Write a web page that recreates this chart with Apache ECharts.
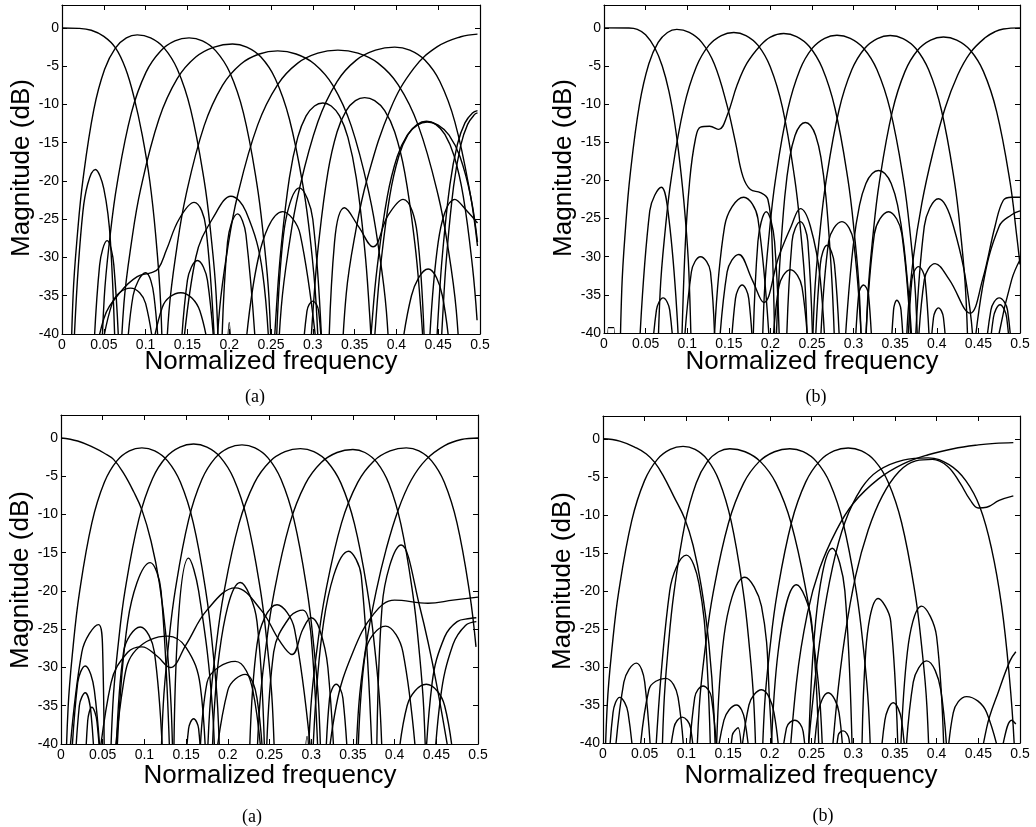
<!DOCTYPE html>
<html><head><meta charset="utf-8">
<script src="https://cdn.jsdelivr.net/npm/echarts@6/dist/echarts.min.js"></script>
<style>html,body{margin:0;padding:0;background:#fff}#c{width:1036px;height:827px}</style>
</head><body><div id="c"></div>
<script>
// ---------- data: each curve is a list of [normalized frequency, dB] ----------
const xTicks = [0,0.05,0.1,0.15,0.2,0.25,0.3,0.35,0.4,0.45,0.5];
const yTicks = [-40,-35,-30,-25,-20,-15,-10,-5,0];

const curvesTopLeft = [
 [[0,0],[0.02,-0.05],[0.035,-0.3],[0.05,-1.1],[0.064,-2.6],[0.076,-5.3],[0.086,-9],[0.096,-14],[0.105,-20],[0.112,-27],[0.118,-36],[0.121,-48]],
 [[0.01,-48],[0.0133,-34.9],[0.0185,-26.9],[0.025,-19.9],[0.038,-10.7],[0.051,-5.4],[0.064,-2.6],[0.077,-1.3],[0.09,-0.9],[0.106,-1.3],[0.122,-2.6],[0.138,-5.4],[0.154,-10.7],[0.17,-19.9],[0.178,-26.9],[0.1844,-34.9],[0.1884,-48]],
 [[0.0462,-48],[0.0505,-35.3],[0.0574,-27.3],[0.066,-20.3],[0.083,-11.1],[0.1004,-5.8],[0.118,-3.0],[0.135,-1.7],[0.152,-1.3],[0.168,-1.7],[0.184,-3.0],[0.2006,-5.8],[0.217,-11.1],[0.233,-20.3],[0.241,-27.3],[0.2476,-35.3],[0.2516,-48]],
 [[0.0687,-48],[0.074,-36.1],[0.083,-28.1],[0.094,-21.1],[0.116,-11.9],[0.138,-6.6],[0.16,-3.8],[0.182,-2.5],[0.204,-2.1],[0.221,-2.5],[0.238,-3.8],[0.255,-6.6],[0.272,-11.9],[0.289,-21.1],[0.2975,-28.1],[0.304,-36.1],[0.3086,-48]],
 [[0.1227,-48],[0.128,-37],[0.137,-29],[0.148,-22],[0.17,-12.8],[0.192,-7.5],[0.214,-4.7],[0.236,-3.4],[0.258,-3.0],[0.28,-3.4],[0.302,-4.7],[0.324,-7.5],[0.346,-12.8],[0.368,-22],[0.379,-29],[0.388,-37],[0.3933,-48]],
 [[0.1824,-48],[0.1884,-36.9],[0.198,-28.9],[0.21,-21.9],[0.234,-12.7],[0.258,-7.4],[0.282,-4.6],[0.306,-3.3],[0.33,-2.9],[0.354,-3.3],[0.378,-4.6],[0.402,-7.4],[0.426,-12.7],[0.45,-21.9],[0.462,-28.9],[0.4716,-36.9],[0.4776,-48]],
 [[0.2566,-48],[0.2623,-36.5],[0.2715,-28.5],[0.283,-21.5],[0.306,-12.3],[0.329,-7.0],[0.352,-4.2],[0.375,-2.9],[0.398,-2.5],[0.416,-2.9],[0.434,-4.2],[0.452,-7.0],[0.47,-12.3],[0.488,-21.5],[0.497,-28.5]],
 [[0.333,-48],[0.34,-34.75],[0.351,-26.75],[0.365,-19.75],[0.393,-10.55],[0.421,-5.25],[0.449,-2.45],[0.477,-1.15],[0.497,-0.8]],
 [[0.2505,-57.8],[0.253,-43.8],[0.257,-35.8],[0.262,-28.8],[0.272,-19.6],[0.282,-14.3],[0.292,-11.5],[0.302,-10.2],[0.312,-9.8],[0.322,-10.2],[0.332,-11.5],[0.342,-14.3],[0.352,-19.6],[0.362,-28.8],[0.367,-35.8],[0.371,-43.8],[0.3735,-57.8]],
 [[0.2944,-57.1],[0.297,-43.1],[0.3015,-35.1],[0.307,-28.1],[0.318,-18.9],[0.329,-13.6],[0.34,-10.8],[0.351,-9.5],[0.362,-9.1],[0.374,-9.5],[0.386,-10.8],[0.398,-13.6],[0.41,-18.9],[0.422,-28.1],[0.428,-35.1],[0.4328,-43.1],[0.4358,-57.1]],
 [[0.3684,-60],[0.371,-46.2],[0.3755,-38.2],[0.381,-31.2],[0.392,-22],[0.403,-16.7],[0.414,-13.9],[0.425,-12.6],[0.436,-12.2],[0.447,-12.6],[0.458,-13.9],[0.469,-16.7],[0.48,-22],[0.491,-31.2],[0.4965,-38.2]],
 [[0.3632,-60],[0.3662,-46.3],[0.371,-38.3],[0.377,-31.3],[0.389,-22.1],[0.401,-16.8],[0.413,-14],[0.425,-12.7],[0.437,-12.3],[0.45,-12.7],[0.463,-14],[0.476,-16.8],[0.489,-22.1],[0.497,-28]],
 [[0.4446,-58.7],[0.4469,-44.7],[0.4505,-36.7],[0.455,-29.7],[0.464,-20.5],[0.473,-15.2],[0.482,-12.4],[0.491,-11.1],[0.497,-10.8]],
 [[0.4503,-58.9],[0.4524,-44.9],[0.4558,-36.9],[0.46,-29.9],[0.4684,-20.7],[0.4768,-15.4],[0.4852,-12.6],[0.4936,-11.3],[0.497,-11.1]],
 [[0.012,-48],[0.025,-24],[0.04,-18.5],[0.05,-21],[0.058,-28],[0.065,-48]],
 [[0.036,-48],[0.045,-31],[0.054,-27.8],[0.062,-31],[0.07,-48]],
 [[0.032,-48],[0.05,-38],[0.07,-34.5],[0.09,-32.5],[0.106,-32],[0.115,-31.5],[0.125,-29],[0.14,-25],[0.158,-22.8],[0.172,-26],[0.185,-48]],
 [[0.04,-48],[0.06,-36],[0.082,-34],[0.1,-36],[0.115,-48]],
 [[0.075,-48],[0.085,-35],[0.1,-32],[0.11,-35],[0.118,-48]],
 [[0.1,-48],[0.12,-36.5],[0.142,-34.6],[0.165,-37],[0.182,-48]],
 [[0.14,-48],[0.15,-33],[0.162,-30.4],[0.174,-33],[0.185,-48]],
 [[0.14,-48],[0.16,-30],[0.185,-24],[0.202,-22],[0.22,-24],[0.24,-32],[0.25,-48]],
 [[0.19,-48],[0.198,-28],[0.21,-24.3],[0.22,-27],[0.235,-48]],
 [[0.196,-48],[0.2,-38.5],[0.204,-48]],
 [[0.215,-48],[0.235,-30],[0.264,-24],[0.285,-27],[0.31,-48]],
 [[0.255,-48],[0.265,-27],[0.284,-20.9],[0.3,-25],[0.313,-48]],
 [[0.285,-48],[0.293,-37],[0.3,-35.7],[0.307,-37],[0.313,-48]],
 [[0.318,-48],[0.326,-28],[0.338,-23.5],[0.355,-26],[0.372,-28.6],[0.39,-24.5],[0.408,-22.4],[0.425,-27],[0.435,-48]],
 [[0.437,-48],[0.45,-28],[0.47,-22.4],[0.485,-24],[0.497,-25.5]],
 [[0.4,-48],[0.418,-35],[0.438,-31.5],[0.455,-35],[0.468,-48]]
];

const curvesTopRight = [
 [[0,0],[0.03,-0.02],[0.04,-0.2],[0.05,-0.9],[0.061,-2.6],[0.07,-5],[0.078,-8.3],[0.085,-12.5],[0.091,-17.5],[0.097,-24],[0.102,-32],[0.106,-48]],
 [[0.0186,-48],[0.0214,-34.2],[0.0259,-26.2],[0.0315,-19.2],[0.0427,-10],[0.0539,-4.7],[0.0651,-1.9],[0.0763,-0.6],[0.0875,-0.2],[0.1025,-0.6],[0.1175,-1.9],[0.1325,-4.7],[0.1475,-10],[0.158,-15],[0.167,-19.5],[0.176,-21.2],[0.188,-21.6],[0.197,-22.5],[0.202,-28],[0.206,-48]],
 [[0.0638,-48],[0.0675,-34.6],[0.0735,-26.6],[0.081,-19.6],[0.096,-10.4],[0.111,-5.1],[0.126,-2.3],[0.141,-1.0],[0.156,-0.6],[0.1706,-1.0],[0.1852,-2.3],[0.1998,-5.1],[0.2144,-10.4],[0.229,-19.6],[0.2363,-26.6],[0.2421,-34.6],[0.2458,-48]],
 [[0.092,-48],[0.097,-30],[0.103,-20],[0.11,-14.5],[0.116,-13],[0.127,-12.9],[0.138,-13.3],[0.148,-11.5],[0.16,-7.5],[0.172,-4.6],[0.188,-2.3],[0.2,-1.2],[0.216,-0.74],[0.2314,-1.14],[0.2468,-2.44],[0.2622,-5.24],[0.2776,-10.54],[0.293,-19.74],[0.3007,-26.74],[0.3069,-34.74],[0.3107,-48]],
 [[0.189,-48],[0.1927,-34.96],[0.1986,-26.96],[0.206,-19.96],[0.2208,-10.76],[0.2356,-5.46],[0.2504,-2.66],[0.2652,-1.36],[0.28,-0.96],[0.296,-1.36],[0.312,-2.66],[0.328,-5.46],[0.344,-10.76],[0.36,-19.96],[0.368,-26.96],[0.3744,-34.96],[0.3784,-48]],
 [[0.2493,-48],[0.2531,-35],[0.2593,-27],[0.267,-20],[0.2824,-10.8],[0.2978,-5.5],[0.3132,-2.7],[0.3286,-1.4],[0.344,-1.0],[0.3594,-1.4],[0.3748,-2.7],[0.3902,-5.5],[0.4056,-10.8],[0.421,-20],[0.4287,-27],[0.4349,-35],[0.4387,-48]],
 [[0.3133,-48],[0.3171,-35.2],[0.3233,-27.2],[0.331,-20.2],[0.3464,-11],[0.3618,-5.7],[0.3772,-2.9],[0.3926,-1.6],[0.408,-1.2],[0.424,-1.6],[0.44,-2.9],[0.456,-5.7],[0.472,-11],[0.488,-20.2],[0.496,-27.2],[0.5,-31]],
 [[0.362,-48],[0.365,-38],[0.372,-30],[0.382,-23],[0.395,-16.5],[0.41,-10.5],[0.425,-6.2],[0.44,-3.3],[0.458,-1.3],[0.47,-0.5],[0.48,-0.15],[0.5,0]],
 [[0.2054,-46.4],[0.2079,-38.4],[0.211,-31.4],[0.2172,-22.2],[0.2234,-16.9],[0.2296,-14.1],[0.2358,-12.8],[0.242,-12.4],[0.2482,-12.8],[0.2544,-14.1],[0.2606,-16.9],[0.2668,-22.2],[0.273,-31.4],[0.2761,-38.4],[0.2786,-46.4]],
 [[0.2882,-44.7],[0.292,-37.7],[0.2996,-28.5],[0.3072,-23.2],[0.3148,-20.4],[0.3224,-19.1],[0.33,-18.7],[0.3376,-19.1],[0.3452,-20.4],[0.3528,-23.2],[0.3604,-28.5],[0.368,-37.7],[0.3718,-44.7]],
 [[0.04,-48],[0.055,-24],[0.069,-20.9],[0.078,-25],[0.088,-38],[0.091,-48]],
 [[0.055,-48],[0.063,-37],[0.071,-35.4],[0.079,-37],[0.086,-48]],
 [[0.004,-48],[0.005,-39.3],[0.012,-39.3],[0.013,-48]],
 [[0.093,-48],[0.105,-32],[0.116,-30],[0.128,-32],[0.134,-48]],
 [[0.13,-48],[0.145,-26],[0.168,-22.2],[0.185,-25],[0.202,-48]],
 [[0.135,-48],[0.148,-32],[0.162,-29.7],[0.178,-33],[0.192,-36],[0.21,-30],[0.225,-26],[0.236,-23.7],[0.248,-26],[0.26,-33],[0.268,-48]],
 [[0.15,-48],[0.158,-35.5],[0.166,-33.7],[0.174,-35.5],[0.181,-48]],
 [[0.178,-48],[0.185,-28],[0.195,-24.1],[0.205,-28],[0.212,-48]],
 [[0.2,-48],[0.21,-34],[0.224,-31.7],[0.238,-34],[0.248,-48]],
 [[0.218,-48],[0.226,-28],[0.236,-25.4],[0.245,-28],[0.252,-48]],
 [[0.252,-48],[0.26,-31],[0.268,-28.5],[0.277,-31],[0.285,-48]],
 [[0.258,-48],[0.27,-28],[0.286,-25.4],[0.3,-28],[0.312,-48]],
 [[0.3,-48],[0.306,-35],[0.312,-33.7],[0.318,-35],[0.324,-48]],
 [[0.312,-48],[0.325,-27],[0.342,-24.1],[0.358,-27],[0.372,-48]],
 [[0.343,-48],[0.348,-37],[0.352,-35.7],[0.357,-37],[0.362,-48]],
 [[0.364,-48],[0.37,-33],[0.378,-31.3],[0.386,-33],[0.393,-48]],
 [[0.372,-48],[0.385,-26],[0.402,-22.4],[0.42,-26],[0.44,-37],[0.446,-48]],
 [[0.375,-48],[0.385,-33],[0.398,-30.9],[0.415,-33],[0.44,-37.4],[0.455,-33],[0.47,-26],[0.48,-22.6],[0.49,-22.2],[0.5,-22.2]],
 [[0.39,-48],[0.396,-38],[0.402,-36.7],[0.408,-38],[0.414,-48]],
 [[0.44,-48],[0.455,-34],[0.475,-26],[0.49,-24.5],[0.5,-24]],
 [[0.455,-48],[0.465,-37],[0.475,-35.4],[0.485,-37],[0.492,-48]],
 [[0.46,-48],[0.468,-38],[0.476,-36.3],[0.484,-38],[0.49,-48]],
 [[0.465,-48],[0.475,-40],[0.49,-33],[0.5,-30.4]]
];

const curvesBottomLeft = [
 [[0,0],[0.02,-0.4],[0.04,-1.3],[0.052,-2],[0.063,-2.8],[0.075,-4.6],[0.087,-7],[0.097,-9.4],[0.108,-13.5],[0.118,-19],[0.126,-26],[0.132,-35],[0.135,-48]],
 [[0.0048,-48],[0.0085,-35.3],[0.0145,-27.3],[0.022,-20.3],[0.037,-11.1],[0.052,-5.8],[0.067,-3.0],[0.082,-1.7],[0.097,-1.3],[0.1124,-1.7],[0.1278,-3.0],[0.1432,-5.8],[0.1586,-11.1],[0.174,-20.3],[0.1817,-27.3],[0.1879,-35.3],[0.1917,-48]],
 [[0.0581,-48],[0.0622,-34.8],[0.0688,-26.8],[0.077,-19.8],[0.0934,-10.6],[0.1098,-5.3],[0.1262,-2.5],[0.1426,-1.2],[0.159,-0.8],[0.175,-1.2],[0.191,-2.5],[0.207,-5.3],[0.223,-10.6],[0.239,-19.8],[0.247,-26.8],[0.2534,-34.8],[0.2574,-48]],
 [[0.1186,-48],[0.1226,-34.9],[0.129,-26.9],[0.137,-19.9],[0.153,-10.7],[0.169,-5.4],[0.185,-2.6],[0.201,-1.3],[0.217,-0.9],[0.2326,-1.3],[0.2482,-2.6],[0.2638,-5.4],[0.2794,-10.7],[0.295,-19.9],[0.3028,-26.9],[0.309,-34.9],[0.3129,-48]],
 [[0.1738,-48],[0.1784,-35.4],[0.1858,-27.4],[0.195,-20.4],[0.2134,-11.2],[0.2318,-5.9],[0.2502,-3.1],[0.2686,-1.8],[0.287,-1.4],[0.3032,-1.8],[0.3194,-3.1],[0.3356,-5.9],[0.3518,-11.2],[0.368,-20.4],[0.3761,-27.4],[0.3826,-35.4],[0.3866,-48]],
 [[0.2332,-48],[0.2379,-35.5],[0.2455,-27.5],[0.255,-20.5],[0.274,-11.3],[0.293,-6.0],[0.312,-3.2],[0.331,-1.9],[0.35,-1.5],[0.3644,-1.9],[0.3788,-3.2],[0.3932,-6.0],[0.4076,-11.3],[0.422,-20.5],[0.4292,-27.5],[0.435,-35.5],[0.4386,-48]],
 [[0.2947,-48],[0.2995,-35.3],[0.3073,-27.3],[0.317,-20.3],[0.3364,-11.1],[0.3558,-5.8],[0.3752,-3.0],[0.3946,-1.7],[0.414,-1.3],[0.4292,-1.7],[0.4444,-3.0],[0.4596,-5.8],[0.4748,-11.1],[0.49,-20.3],[0.4976,-27.3]],
 [[0.352,-48],[0.357,-35],[0.366,-27],[0.378,-20],[0.39,-14.5],[0.404,-9.5],[0.42,-5.5],[0.438,-2.8],[0.46,-1],[0.48,-0.2],[0.5,0]],
 [[0.065,-48],[0.08,-24],[0.107,-16.3],[0.12,-20],[0.132,-48]],
 [[0.135,-48],[0.14,-25],[0.153,-15.7],[0.165,-20],[0.182,-36],[0.185,-48]],
 [[0.18,-48],[0.19,-28],[0.215,-18.9],[0.235,-24],[0.245,-48]],
 [[0.3,-48],[0.315,-24],[0.345,-14.8],[0.36,-18],[0.375,-48]],
 [[0.378,-48],[0.385,-22],[0.408,-14],[0.43,-22],[0.45,-32],[0.475,-48]],
 [[0.006,-48],[0.025,-28],[0.045,-24.4],[0.05,-28],[0.052,-48]],
 [[0.065,-48],[0.075,-28],[0.095,-24.7],[0.112,-28],[0.124,-48]],
 [[0.04,-48],[0.06,-32],[0.08,-28],[0.097,-27.3],[0.115,-28.5],[0.131,-30],[0.15,-27],[0.175,-22.5],[0.209,-19.6],[0.24,-22.5],[0.262,-26.5],[0.277,-28.3],[0.29,-25],[0.3,-23.5],[0.31,-25],[0.32,-30],[0.33,-48]],
 [[0.06,-48],[0.075,-32],[0.09,-27.7],[0.128,-25.9],[0.15,-27.4],[0.167,-32.4],[0.175,-48]],
 [[0.165,-48],[0.175,-32],[0.209,-29.2],[0.23,-33],[0.244,-48]],
 [[0.18,-48],[0.2,-33],[0.221,-30.9],[0.235,-34],[0.245,-48]],
 [[0.147,-48],[0.153,-38],[0.159,-36.7],[0.165,-38],[0.17,-48]],
 [[0.29,-48],[0.295,-39],[0.3,-48]],
 [[0.01,-48],[0.02,-32],[0.029,-29.8],[0.04,-33],[0.05,-48]],
 [[0.015,-48],[0.022,-35],[0.029,-33.3],[0.036,-36],[0.042,-48]],
 [[0.028,-48],[0.032,-37],[0.037,-35.2],[0.043,-37],[0.05,-48]],
 [[0.225,-48],[0.235,-27],[0.259,-21.8],[0.28,-25],[0.305,-48]],
 [[0.245,-48],[0.255,-28],[0.275,-23.3],[0.29,-22.5],[0.3,-26],[0.31,-48]],
 [[0.316,-48],[0.322,-34],[0.33,-32.2],[0.338,-34],[0.346,-48]],
 [[0.355,-48],[0.365,-28],[0.389,-24.6],[0.41,-28],[0.43,-48]],
 [[0.315,-48],[0.33,-35],[0.35,-28],[0.375,-23],[0.4,-21.2],[0.44,-21.6],[0.47,-21.2],[0.5,-20.8]],
 [[0.435,-48],[0.445,-32],[0.46,-26],[0.475,-24],[0.49,-23.6],[0.498,-23.5]],
 [[0.445,-48],[0.455,-34],[0.47,-27],[0.485,-24.5],[0.498,-24]],
 [[0.4,-48],[0.415,-35],[0.438,-32.2],[0.46,-35],[0.475,-48]]
];

const curvesBottomRight = [
 [[0,0],[0.02,-0.3],[0.04,-1.2],[0.052,-2],[0.062,-3.1],[0.072,-4.8],[0.085,-7.6],[0.098,-10.5],[0.108,-14],[0.118,-19.5],[0.127,-27],[0.133,-36],[0.136,-48]],
 [[0.0013,-48],[0.0051,-35],[0.0113,-27],[0.019,-20],[0.0344,-10.8],[0.0498,-5.5],[0.0652,-2.7],[0.0806,-1.4],[0.096,-1.0],[0.1104,-1.4],[0.1248,-2.7],[0.1392,-5.5],[0.1536,-10.8],[0.168,-20],[0.1752,-27],[0.181,-35],[0.1846,-48]],
 [[0.0696,-48],[0.0729,-35.3],[0.0783,-27.3],[0.085,-20.3],[0.0984,-11.1],[0.1118,-5.8],[0.1252,-3.0],[0.1386,-1.7],[0.152,-1.3],[0.1704,-1.7],[0.1888,-3.0],[0.2072,-5.8],[0.2256,-11.1],[0.244,-20.3],[0.2532,-27.3],[0.2606,-35.3],[0.2652,-48]],
 [[0.1108,-48],[0.1154,-35.3],[0.1228,-27.3],[0.132,-20.3],[0.1504,-11.1],[0.1688,-5.8],[0.1872,-3.0],[0.2056,-1.7],[0.224,-1.3],[0.24,-1.7],[0.256,-3.0],[0.272,-5.8],[0.288,-11.1],[0.304,-20.3],[0.312,-27.3],[0.3184,-35.3],[0.3224,-48]],
 [[0.1895,-48],[0.1937,-35.2],[0.2005,-27.2],[0.209,-20.2],[0.226,-11],[0.243,-5.7],[0.26,-2.9],[0.277,-1.6],[0.294,-1.2],[0.31,-1.6],[0.326,-2.9],[0.342,-5.7],[0.358,-11],[0.374,-20.2],[0.382,-27.2],[0.3884,-35.2],[0.3924,-48]],
 [[0.24,-48],[0.252,-34],[0.262,-25],[0.275,-17],[0.29,-11],[0.31,-6.5],[0.33,-4.2],[0.36,-2.8],[0.39,-2.5],[0.415,-3.4],[0.435,-5.5],[0.452,-9],[0.466,-14.5],[0.478,-22],[0.487,-31],[0.493,-40],[0.495,-48]],
 [[0.27,-48],[0.28,-35],[0.29,-26],[0.303,-18],[0.318,-12],[0.335,-7.5],[0.355,-4.3],[0.375,-2.9],[0.395,-2.7],[0.413,-3.6],[0.428,-5.8],[0.44,-8],[0.45,-9.1],[0.46,-9],[0.475,-8.1],[0.492,-7.5]],
 [[0.22,-48],[0.232,-32],[0.245,-23],[0.26,-17],[0.28,-12],[0.3,-8.5],[0.33,-5.3],[0.36,-3.3],[0.39,-2.1],[0.42,-1.3],[0.45,-0.8],[0.47,-0.6],[0.492,-0.5]],
 [[0.06,-48],[0.08,-20],[0.1,-15.3],[0.115,-19],[0.125,-30],[0.13,-48]],
 [[0.135,-48],[0.145,-26],[0.17,-18.2],[0.19,-22],[0.2,-35],[0.205,-48]],
 [[0.2,-48],[0.21,-28],[0.232,-19.2],[0.25,-24],[0.26,-48]],
 [[0.245,-48],[0.255,-24],[0.275,-14.4],[0.29,-20],[0.3,-48]],
 [[0.31,-48],[0.315,-28],[0.33,-21],[0.345,-24],[0.355,-48]],
 [[0.355,-48],[0.365,-28],[0.382,-22],[0.4,-26],[0.41,-48]],
 [[0.36,-48],[0.372,-32],[0.388,-29.2],[0.405,-33],[0.415,-48]],
 [[0.41,-48],[0.42,-36],[0.436,-33.9],[0.46,-36],[0.487,-48]],
 [[0.445,-48],[0.46,-38],[0.475,-33],[0.488,-29.2],[0.495,-28]],
 [[0.468,-48],[0.48,-40],[0.49,-37],[0.495,-37.5]],
 [[0.25,-48],[0.258,-36],[0.27,-33.4],[0.283,-36],[0.29,-48]],
 [[0.33,-48],[0.338,-37],[0.348,-34.7],[0.358,-37],[0.365,-48]],
 [[0.21,-48],[0.22,-38],[0.23,-37],[0.24,-38.5],[0.245,-48]],
 [[0.275,-48],[0.282,-39],[0.288,-38.4],[0.295,-39.5],[0.3,-48]],
 [[0.01,-48],[0.025,-32],[0.04,-29.5],[0.05,-32],[0.06,-48]],
 [[0.005,-48],[0.012,-36],[0.02,-34],[0.03,-36],[0.04,-48]],
 [[0.04,-48],[0.055,-33],[0.075,-31.5],[0.09,-34],[0.1,-48]],
 [[0.075,-48],[0.085,-38],[0.095,-36.6],[0.105,-38],[0.112,-48]],
 [[0.1,-48],[0.11,-34],[0.12,-32.5],[0.13,-34],[0.14,-48]],
 [[0.13,-48],[0.145,-37],[0.16,-35],[0.17,-37],[0.18,-48]],
 [[0.16,-48],[0.175,-35],[0.19,-33],[0.205,-36],[0.215,-48]],
 [[0.15,-48],[0.155,-39],[0.162,-38],[0.168,-48]]
];

// ---------- chart ----------
const panels = [
  {curves: curvesTopLeft,    grid: {left: 62,  top: 5,   width: 418, height: 329}},
  {curves: curvesTopRight,   grid: {left: 604, top: 5,   width: 416, height: 328}},
  {curves: curvesBottomLeft, grid: {left: 61,  top: 415, width: 417, height: 329}},
  {curves: curvesBottomRight,grid: {left: 603, top: 416, width: 417, height: 327}}
];
const sans = '"Liberation Sans", Arial, Helvetica, sans-serif';
const grids = [], xAxes = [], yAxes = [], series = [];
panels.forEach((p, i) => {
  grids.push(p.grid);
  const tick = {show: true, inside: true, length: 5, lineStyle: {color: '#000', width: 1}};
  const line = {show: true, onZero: false, lineStyle: {color: '#000', width: 1.2}};
  xAxes.push({gridIndex: i, type: 'value', min: xTicks[0], max: xTicks[xTicks.length-1], interval: 0.05,
    position: 'bottom', axisLine: line, axisTick: tick, splitLine: {show: false},
    axisLabel: {color: '#000', fontSize: 14, fontFamily: sans, margin: 4}});
  xAxes.push({gridIndex: i, type: 'value', min: 0, max: 0.5, interval: 0.05, position: 'top',
    axisLine: line, axisTick: tick, splitLine: {show: false}, axisLabel: {show: false}});
  yAxes.push({gridIndex: i, type: 'value', min: yTicks[0], max: 3, interval: 5, position: 'left',
    axisLine: line, axisTick: tick, splitLine: {show: false},
    axisLabel: {color: '#000', fontSize: 14, fontFamily: sans, margin: 3, showMaxLabel: false}});
  yAxes.push({gridIndex: i, type: 'value', min: -40, max: 3, interval: 5, position: 'right',
    axisLine: line, axisTick: tick, splitLine: {show: false}, axisLabel: {show: false}});
  p.curves.forEach(c => series.push({
    type: 'line', xAxisIndex: 2*i, yAxisIndex: 2*i, data: c, smooth: 0.4, showSymbol: false,
    symbol: 'none', clip: true, silent: true, lineStyle: {color: '#000', width: 1.4}
  }));
});

const texts = [];
const xlab = [[271, 362], [812, 362], [270, 776], [811, 776]];
const ylab = [[22, 168], [564, 168], [21, 580], [563, 581]];
const caps = [['(a)', 255, 397], ['(b)', 816, 397], ['(a)', 252, 817], ['(b)', 823, 816]];
xlab.forEach(([x, y]) => texts.push({type: 'text', x, y, style: {text: 'Normalized frequency',
  font: '26px ' + sans, fill: '#000', textAlign: 'center', textVerticalAlign: 'middle'}}));
ylab.forEach(([x, y]) => texts.push({type: 'text', x, y, rotation: Math.PI/2, style: {text: 'Magnitude (dB)',
  font: '26px ' + sans, fill: '#000', textAlign: 'center', textVerticalAlign: 'middle'}}));
caps.forEach(([t, x, y]) => texts.push({type: 'text', x, y, style: {text: t,
  font: '18px "Liberation Serif", "Times New Roman", serif', fill: '#000', textAlign: 'center', textVerticalAlign: 'middle'}}));

const chart = echarts.init(document.getElementById('c'), null, {renderer: 'canvas'});
chart.setOption({animation: false, backgroundColor: '#fff', grid: grids, xAxis: xAxes, yAxis: yAxes,
  series: series, graphic: texts});
</script></body></html>
